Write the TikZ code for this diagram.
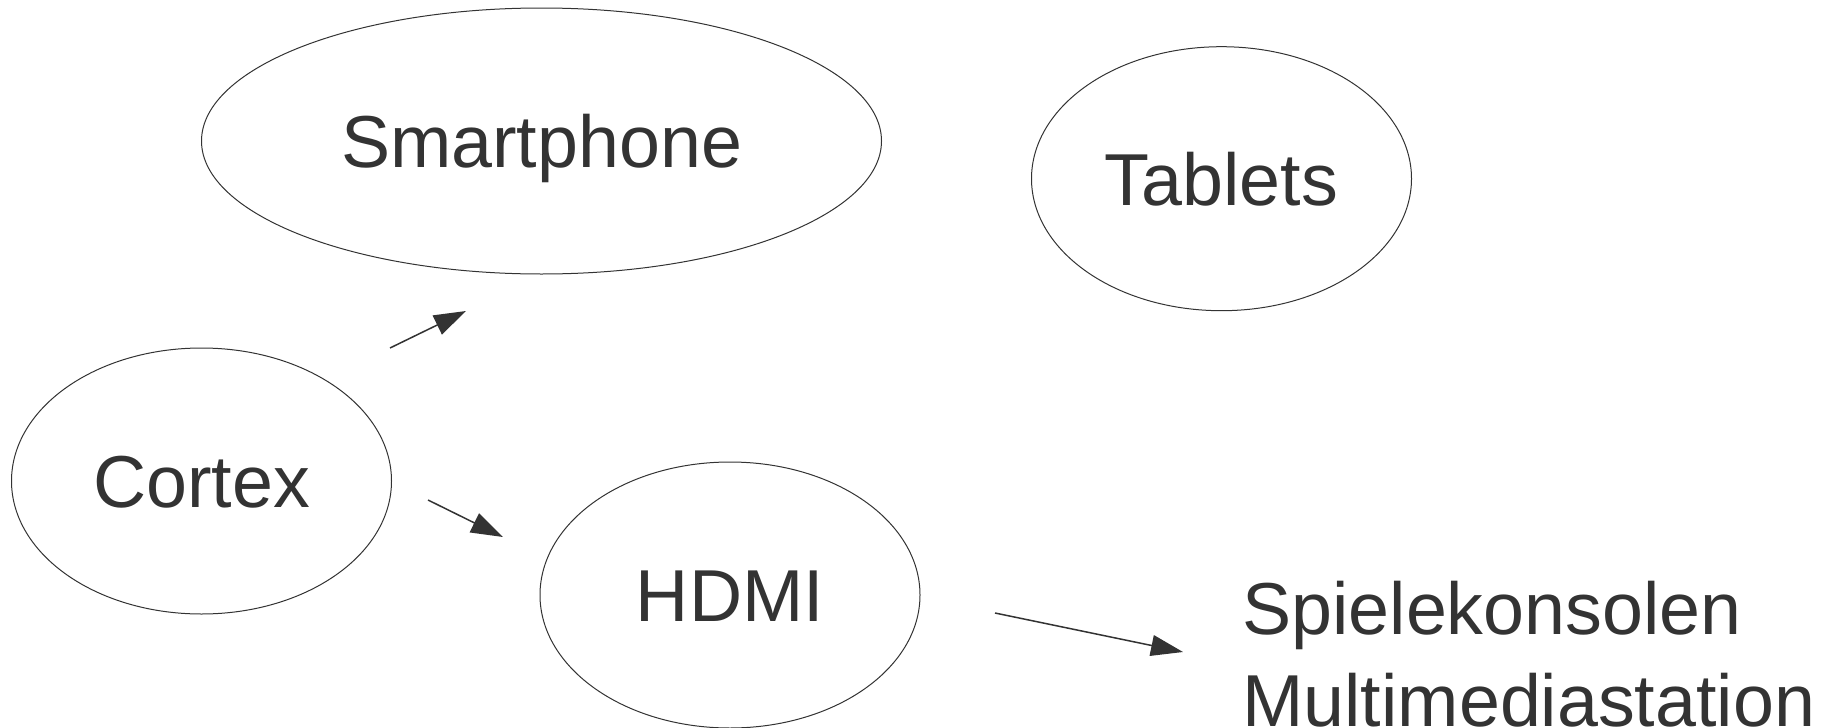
\documentclass[tikz,border=0pt]{standalone}
\usepackage{fontspec}
\setmainfont{Liberation Sans}
\usetikzlibrary{arrows.meta,shapes.geometric}
\definecolor{ink}{HTML}{333333}

\begin{document}
\begin{tikzpicture}[x=0.5pt,y=-0.5pt,
    device/.style={draw=ink, line width=0.5pt, ellipse, inner sep=0pt, text=ink,
        font=\fontsize{36.8}{46}\selectfont, text height=26.3pt, text depth=0pt},
    link/.style={draw=ink, line width=0.75pt, -{Triangle[length=16pt,width=10.5pt]}}]
    \useasboundingbox (0,0) rectangle (1826,728);

    \node [device, minimum width=340pt, minimum height=133pt] (smartphone) at (541.5,141) {Smartphone};
    \node [device, minimum width=190pt, minimum height=132pt] (tablets) at (1221.5,178.7) {Tablets};
    \node [device, minimum width=190pt, minimum height=133pt] (cortex) at (201.5,481) {Cortex};
    \node [device, minimum width=190pt, minimum height=133pt] (hdmi) at (730,595) {HDMI};
    \node [anchor=north west, align=left, inner sep=0pt, text=ink,
        font=\fontsize{36.8}{46}\selectfont] (consoles) at (1242,581) {Spielekonsolen\\Multimediastation};

    \coordinate (cortex up) at (390,348);
    \coordinate (smartphone in) at (466,311);
    \coordinate (cortex down) at (428,500);
    \coordinate (hdmi in) at (503,537);
    \coordinate (hdmi out) at (995,613);
    \coordinate (consoles in) at (1183,652);

    \draw [link] (cortex up) -- (smartphone in);
    \draw [link] (cortex down) -- (hdmi in);
    \draw [link] (hdmi out) -- (consoles in);
\end{tikzpicture}
\end{document}
